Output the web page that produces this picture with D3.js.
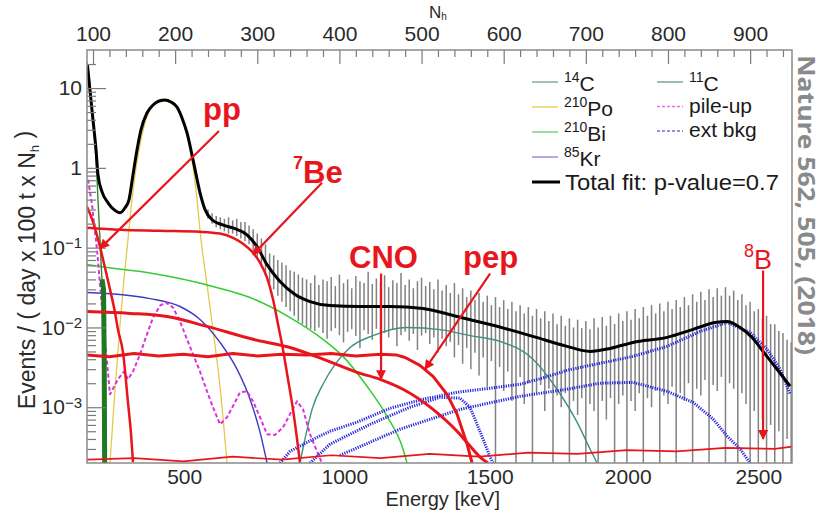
<!DOCTYPE html>
<html>
<head>
<meta charset="utf-8">
<script src="https://cdn.jsdelivr.net/npm/d3@7"></script>
<style>
    body { margin: 0; background: #fff; }
    svg text { font-family: "Liberation Sans", Arial, Helvetica, sans-serif; }
</style>
</head>
<body>
<div id="chart"></div>
<script>
    // axis ticks
    var nhTicks = [100, 200, 300, 400, 500, 600, 700, 800, 900];
    var energyTicks = [500, 1000, 1500, 2000, 2500];
    // N_h where each energy label sits (energy scale is not linear in N_h)
    var energyTickNh = [211, 406, 583, 751, 910];
    var decadeTicks = [1e-3, 1e-2, 1e-1, 1, 10];

    // curves: [N_h, events / (day x 100 t x N_h)]
    var totalFit = [[93.3,19.4],[96.3,9.44],[100,3.98],[103.7,1.68],[106.1,0.818],[111,0.50],[118.3,0.365],[125.6,0.30],
        [132.9,0.274],[139,0.316],[143.8,0.398],[148.7,0.818],[153.6,1.68],[158.4,2.99],[165.7,4.87],[173.1,6.13],
        [180.4,6.88],[187.7,7.08],[195,6.68],[202.3,5.79],[208.4,4.22],[214.5,2.74],[221.8,1.26],[230.3,0.487],
        [236.4,0.30],[244.9,0.224],[257.1,0.194],[272.9,0.173],[287.5,0.145],[299.7,0.103],[311.9,0.0613],
        [327.7,0.0376],[346,0.0259],[364.2,0.0211],[388.6,0.0188],[425.1,0.0183],[461.6,0.0183],[501.8,0.0173],
        [543.2,0.0137],[583.4,0.0109],[635.7,0.00772],[677.1,0.00579],[705.1,0.00501],[729.5,0.00546],
        [757.5,0.00649],[798.9,0.0075],[830.6,0.00944],[857.3,0.01155],[871.9,0.0119],[887.8,0.0100],
        [902.4,0.0075],[915.8,0.0050],[932.8,0.00299],[948.7,0.00183]];

    var ppNu = [[92.7,0.326],[100,0.211],[108.5,0.103],[114.6,0.056],[120.7,0.030],[126.8,0.0154],[130.4,0.0094],
        [136.5,0.0049],[142.6,0.00115],[146.3,0.00046],[148.7,0.000205]];
    var be7Nu = [[92.7,0.178],[132.9,0.168],[181.6,0.163],[230.3,0.158],[254.6,0.150],[270.5,0.133],[282.6,0.112],
        [293.6,0.089],[303.3,0.065],[311.9,0.042],[319.2,0.0224],[325.3,0.0109],[331.3,0.0053],[337.4,0.00224],
        [343.5,0.00094],[348.4,0.0004],[352,0.0002]];
    var cnoNu = [[92.7,0.0158],[145.1,0.0150],[190.1,0.0137],[238.8,0.0103],[294.8,0.0071],[339.9,0.0056],
        [380,0.0040],[421.4,0.00274],[449.4,0.00224],[477.4,0.00168],[514,0.00094],[543.2,0.0005],
        [559,0.000326],[571.2,0.000237],[580.9,0.0002]];
    var pepNu = [[92.7,0.0045],[120,0.0043],[150,0.0047],[180,0.0044],[210,0.0046],[240,0.0043],[270,0.0047],
        [300,0.0044],[330,0.0046],[360,0.0045],[390,0.0047],[420,0.0044],[450,0.0046],[470,0.0045],[480,0.0042],
        [498,0.00335],[514,0.00244],[531,0.00145],[543.2,0.00082],[555.4,0.000345],[561.5,0.0002]];
    var b8Nu = [[92.7,0.00022],[150,0.00023],[210,0.00021],[270,0.00024],[330,0.00022],[390,0.00025],[450,0.00023],
        [510,0.00026],[570,0.00024],[630,0.00027],[690,0.00026],[750,0.00029],[810,0.00028],[870,0.00031],
        [930,0.0003],[951,0.00032]];

    var c14 = [[92.7,21],[96.3,10.9],[100,4.2],[103.7,1.26],[106.1,0.40],[108.5,0.126],[111,0.040],
        [112.8,0.03],[113.6,0.005],[114.2,0.0002]];
    var po210 = [[120.7,0.0002],[126.8,0.00168],[132.9,0.0109],[137.7,0.040],[142.6,0.126],[147.5,0.40],
        [152.4,1.0],[158.4,2.24],[165.7,4.47],[173.1,5.96],[180.4,6.68],[187.7,6.88],[195,6.49],[202.3,5.46],
        [208.4,3.98],[214.5,2.51],[220.5,1.26],[225.4,0.53],[231.5,0.126],[238.8,0.0345],[246.1,0.0094],
        [254.6,0.00183],[263.2,0.0002]];
    var bi210 = [[92.7,0.0613],[108.5,0.0579],[165.7,0.0487],[246.1,0.0326],[291.2,0.0237],[339.9,0.0133],
        [380,0.0071],[404.4,0.00434],[433.6,0.00183],[458,0.00077],[477.4,0.0003],[482.3,0.0002]];
    var kr85 = [[92.7,0.0274],[132.9,0.0259],[169.4,0.023],[205.9,0.0183],[230.3,0.0126],[254.6,0.0065],
        [275.3,0.003],[291.2,0.00126],[303.3,0.00049],[311.9,0.0002]];
    var c11 = [[352,0.0002],[358.1,0.0004],[366.7,0.00094],[380,0.00194],[394.7,0.00345],[412.9,0.0056],
        [440.9,0.0079],[482.3,0.01],[522.5,0.0094],[559,0.0079],[595.6,0.00668],[635.7,0.004],[664.9,0.00168],
        [689.3,0.00065],[705.1,0.0003],[713.7,0.0002]];
    var pileUp = [[94,0.71],[98.8,0.345],[104.9,0.094],[112.2,0.0126],[120.7,0.00145],[130.4,0.00224],
        [137.7,0.0028],[142.6,0.00224],[148.7,0.0028],[157.2,0.0046],[165.7,0.0082],[173.1,0.0133],[181.6,0.0188],
        [188.9,0.0205],[197.4,0.0178],[205.9,0.0119],[214.5,0.0071],[221.8,0.0046],[230.3,0.0028],[238.8,0.00158],
        [246.1,0.001],[254.6,0.00061],[263.2,0.00075],[271.7,0.00109],[279,0.00154],[287.5,0.00158],
        [294.8,0.00119],[303.3,0.00075],[311.9,0.00046],[321.6,0.00045],[331.3,0.00056],[339.9,0.00082],
        [348.4,0.00119],[355.7,0.00094],[364.2,0.00046],[371.5,0.0003],[378.8,0.0002]];
    var extTl = [[327.7,0.0002],[339.9,0.00028],[364.2,0.00038],[388.6,0.0005],[421.4,0.00065],[461.6,0.00097],
        [501.8,0.00126],[543.2,0.00154],[583.4,0.00173],[620,0.00194],[650.4,0.00237],[677.1,0.0029],
        [717.3,0.00355],[757.5,0.00434],[798.9,0.00579],[839.1,0.0089],[871.9,0.01155],[900,0.00866],
        [920.7,0.0053],[936.5,0.003],[948.7,0.00145]];
    var extK = [[364.2,0.0002],[388.6,0.000345],[437.3,0.00061],[485.9,0.001],[522.5,0.00133],[546.9,0.0013],
        [559,0.001],[571,0.0005],[583.4,0.00024],[587,0.0002]];
    var extBi = [[400.7,0.00025],[473.8,0.00053],[546.9,0.00094],[620,0.00137],[677.1,0.00168],[717.3,0.002],
        [757.5,0.00205],[798.9,0.00158],[830.6,0.00115],[855,0.00071],[872,0.000434],[887.8,0.0003],[900,0.0002]];

    // data error bars, one per 5 N_h from 240 to 950 (top and bottom of each bar)
    var binStart = 240, binStep = 5;
    var dataHi = [
        0.30,0.27,0.25,0.24,0.23,0.24,0.22,0.23,0.21,0.21,
        0.19,0.17,0.15,0.13,0.11,0.085,0.08,0.07,0.065,0.06,
        0.052,0.05,0.046,0.042,0.040,0.036,0.045,0.034,0.040,0.038,
        0.043,0.033,0.046,0.036,0.040,0.031,0.044,0.038,0.036,0.050,
        0.035,0.041,0.037,0.045,0.032,0.039,0.036,0.048,0.034,0.040,
        0.031,0.038,0.042,0.033,0.037,0.030,0.040,0.029,0.034,0.027,
        0.036,0.026,0.031,0.024,0.029,0.022,0.027,0.021,0.025,0.019,
        0.024,0.018,0.022,0.017,0.021,0.016,0.019,0.015,0.018,0.014,
        0.017,0.013,0.016,0.012,0.015,0.011,0.014,0.0105,0.013,0.010,
        0.0125,0.0098,0.012,0.0095,0.013,0.010,0.0135,0.0105,0.014,0.011,
        0.015,0.012,0.016,0.0125,0.017,0.013,0.018,0.014,0.019,0.015,
        0.020,0.016,0.021,0.017,0.022,0.018,0.024,0.019,0.026,0.021,
        0.028,0.022,0.030,0.024,0.031,0.025,0.032,0.025,0.029,0.022,
        0.026,0.019,0.021,0.016,0.017,0.013,0.014,0.011,0.011,0.009,
        0.0085,0.007,0.0065];
    var dataLo = [
        0.23,0.20,0.18,0.17,0.16,0.15,0.15,0.14,0.13,0.12,
        0.11,0.09,0.075,0.058,0.045,0.036,0.03,0.025,0.021,0.018,
        0.016,0.014,0.012,0.011,0.010,0.0095,0.009,0.010,0.0085,0.0072,
        0.009,0.0098,0.008,0.0065,0.0088,0.0095,0.0078,0.0055,0.0092,0.0083,
        0.007,0.0096,0.0062,0.0085,0.0075,0.0093,0.0058,0.008,0.0088,0.0068,
        0.0083,0.0052,0.0079,0.0085,0.0062,0.0075,0.0048,0.0072,0.0058,0.0066,
        0.0042,0.006,0.0035,0.0055,0.003,0.0048,0.0025,0.0042,0.0018,0.0038,
        0.0001,0.0032,0.0016,0.0028,0.0012,0.0001,0.0024,0.0011,0.002,0.0001,
        0.0015,0.0019,0.0009,0.0017,0.0001,0.0014,0.001,0.0015,0.0001,0.0012,
        0.0008,0.0013,0.0001,0.0011,0.0009,0.0001,0.0012,0.0007,0.0013,0.0001,
        0.0011,0.0014,0.0001,0.0012,0.0009,0.0015,0.0001,0.0013,0.001,0.0016,
        0.0001,0.0014,0.0011,0.0018,0.0001,0.0015,0.0012,0.002,0.0001,0.0017,
        0.0014,0.0022,0.0001,0.0019,0.0016,0.0024,0.0001,0.002,0.0017,0.0001,
        0.0015,0.0011,0.0001,0.0009,0.0001,0.0007,0.0001,0.0006,0.0001,0.0005,
        0.0001,0.0004,0.0001];

    // legend entries
    var legendLeft = [
        {sup: "14", name: "C", color: "#7fa493"},
        {sup: "210", name: "Po", color: "#e9cf55"},
        {sup: "210", name: "Bi", color: "#6fd06f"},
        {sup: "85", name: "Kr", color: "#8c8cd6"}];
    var legendRight = [
        {sup: "11", name: "C", color: "#6f9f9c", dash: null},
        {sup: "", name: "pile-up", color: "#e070e0", dash: "3,2"},
        {sup: "", name: "ext bkg", color: "#7070d0", dash: "3,2"}];

    // red labels with arrows, in data coordinates
    var annotations = [
        {sup: "", text: "pp", at: [233.9, 3.98], anchor: "start", bold: true, from: [253.4, 2.90], to: [108.5, 0.0972]},
        {sup: "7", text: "Be", at: [343.5, 0.772], anchor: "start", bold: true, from: [378.8, 0.65], to: [294.8, 0.0818]},
        {sup: "", text: "CNO", at: [453.7, 0.0562], anchor: "middle", bold: true, from: [450.7, 0.0473], to: [450.7, 0.00225]},
        {sup: "", text: "pep", at: [584, 0.0562], anchor: "middle", bold: true, from: [583.4, 0.0473], to: [504.2, 0.00299]},
        {sup: "8", text: "B", at: [909.7, 0.0613], anchor: "middle", bold: false, from: [915.8, 0.0516], to: [915.8, 0.0004]}];

    var W = 824, H = 512;
    var margin = {top: 50, right: 32, bottom: 49, left: 87},
        width = W - margin.left - margin.right,
        height = H - margin.top - margin.bottom;
    var red = "#e8161c";

    var svg = d3.select("#chart").append("svg").attr("width", W).attr("height", H);
    var g = svg.append("g").attr("transform", "translate(" + margin.left + "," + margin.top + ")");

    var x = d3.scaleLinear().domain([92.7, 951]).range([0, width]);
    var y = d3.scaleLog().domain([2e-4, 30]).range([height, 0]);
    var energyX = d3.scaleLinear().domain(energyTicks).range(energyTickNh.map(function (n) { return x(n); }));

    var defs = svg.append("defs");
    defs.append("clipPath").attr("id", "clip")
        .append("rect").attr("width", width).attr("height", height);
    defs.append("marker").attr("id", "arrow").attr("viewBox", "0 0 10 10")
        .attr("refX", 9).attr("refY", 5).attr("markerWidth", 12).attr("markerHeight", 10)
        .attr("markerUnits", "userSpaceOnUse").attr("orient", "auto")
        .append("path").attr("d", "M0,0 L10,5 L0,10 z").attr("fill", red);

    var plot = g.append("g").attr("clip-path", "url(#clip)");

    // grey data bars
    plot.selectAll(".bar").data(dataHi).enter().append("line")
        .attr("class", "bar")
        .attr("x1", function (d, i) { return x(binStart + i * binStep); })
        .attr("x2", function (d, i) { return x(binStart + i * binStep); })
        .attr("y1", function (d) { return y(d); })
        .attr("y2", function (d, i) { return Math.min(y(dataLo[i]), height + 5); })
        .attr("stroke", "#636363").attr("stroke-width", 1.5).attr("opacity", 0.8);

    var line = d3.line().x(function (d) { return x(d[0]); }).y(function (d) { return y(d[1]); });

    function drawCurve(data, color, w, dash, curve) {
        plot.append("path").datum(data)
            .attr("fill", "none").attr("stroke", color).attr("stroke-width", w)
            .attr("stroke-dasharray", dash || null).attr("stroke-linejoin", "round")
            .attr("d", line.curve(curve || d3.curveMonotoneX));
    }

    // backgrounds
    drawCurve(po210, "#e6c84a", 1.3);
    drawCurve(bi210, "#33cc33", 1.5);
    drawCurve(kr85, "#3b3bc8", 1.4);
    drawCurve(c11, "#3f8f84", 1.4);
    drawCurve(pileUp, "#dd33dd", 2, "4,2.5", d3.curveLinear);
    drawCurve(extTl, "#2424e0", 3, "1.2,1.2", d3.curveLinear);
    drawCurve(extK, "#2424e0", 3, "1.2,1.2", d3.curveLinear);
    drawCurve(extBi, "#2424e0", 3, "1.2,1.2", d3.curveLinear);
    drawCurve(c14, "#2f8a2f", 1.4);
    drawCurve(c14.filter(function (d) { return d[1] < 0.05; }), "#1f7a1f", 5, null, d3.curveLinear);

    // neutrino components
    drawCurve(b8Nu, red, 1.7, null, d3.curveLinear);
    drawCurve(ppNu, red, 2.5);
    drawCurve(be7Nu, red, 2.5);
    drawCurve(cnoNu, red, 3);
    drawCurve(pepNu, red, 3, null, d3.curveLinear);

    // total fit
    drawCurve(totalFit, "#000", 3);

    // axes
    g.append("g").attr("class", "axis")
        .call(d3.axisTop(x).tickValues(nhTicks).tickSize(-14).tickPadding(9));
    g.append("g").attr("class", "axis")
        .call(d3.axisTop(x).tickValues(d3.range(100, 951, 20).filter(function (v) { return v % 100; }))
            .tickSize(-7).tickFormat(""));

    var minors = [];
    [-4, -3, -2, -1, 0, 1].forEach(function (e) {
        for (var m = 2; m < 10; m++) {
            var v = m * Math.pow(10, e);
            if (v > 2e-4 && v < 30) minors.push(v);
        }
    });
    var leftAxis = g.append("g").attr("class", "axis")
        .call(d3.axisLeft(y).tickValues(decadeTicks).tickSize(-19).tickPadding(5));
    g.append("g").attr("class", "axis")
        .call(d3.axisLeft(y).tickValues(minors).tickSize(-9).tickFormat(""));

    leftAxis.selectAll(".tick text").each(function (d) {
        var t = d3.select(this).text("");
        var e = Math.round(Math.log10(d));
        if (e === 0) t.text("1");
        else if (e === 1) t.text("10");
        else {
            t.append("tspan").text("10");
            t.append("tspan").attr("class", "sup").attr("dy", "-0.45em").text("\u2212" + (-e));
        }
    });

    g.append("g").attr("class", "axis")
        .attr("transform", "translate(0," + height + ")")
        .call(d3.axisBottom(energyX).tickValues(energyTicks).tickSize(0).tickPadding(6).tickFormat(d3.format("d")));

    g.selectAll(".axis .domain").remove();
    g.selectAll(".axis .tick line").attr("stroke", "#7a7a7a").attr("stroke-width", 1.2);
    g.selectAll(".axis .tick text").attr("fill", "#2a2a2a").style("font-size", "21px");
    leftAxis.selectAll(".tick text .sup").style("font-size", "15px");

    // frame
    g.append("rect").attr("width", width).attr("height", height)
        .attr("fill", "none").attr("stroke", "#8a8a8a").attr("stroke-width", 1.5);

    // axis titles
    svg.append("text").attr("x", 500).attr("y", 506).attr("text-anchor", "end")
        .attr("fill", "#2a2a2a").style("font-size", "20px").text("Energy [keV]");

    var yt = svg.append("text").attr("transform", "translate(35,270) rotate(-90)")
        .attr("text-anchor", "middle").attr("fill", "#2a2a2a").style("font-size", "23px");
    yt.append("tspan").text("Events / ( day x 100 t x N");
    yt.append("tspan").attr("dy", "0.3em").style("font-size", "13px").text("h");
    yt.append("tspan").attr("dy", "-0.3em").text(" )");

    var nt = svg.append("text").attr("x", 429).attr("y", 18).attr("fill", "#2a2a2a").style("font-size", "17px");
    nt.append("tspan").text("N");
    nt.append("tspan").attr("dy", "0.2em").style("font-size", "10px").text("h");

    // legend
    function legendText(sel, d) {
        if (d.sup) sel.append("tspan").attr("dy", "-0.42em").style("font-size", "14px").text(d.sup);
        sel.append("tspan").attr("dy", d.sup ? "0.42em" : null).text(d.name);
    }
    legendLeft.forEach(function (d, i) {
        var ly = 82 + i * 25;
        svg.append("line").attr("x1", 532).attr("x2", 558).attr("y1", ly).attr("y2", ly)
            .attr("stroke", d.color).attr("stroke-width", 1.4);
        var t = svg.append("text").attr("x", 564).attr("y", ly + 6).attr("fill", "#1a1a1a").style("font-size", "21px");
        legendText(t, d);
    });
    legendRight.forEach(function (d, i) {
        var ly = 82 + i * 24.5;
        svg.append("line").attr("x1", 657).attr("x2", 683).attr("y1", ly).attr("y2", ly)
            .attr("stroke", d.color).attr("stroke-width", 1.4).attr("stroke-dasharray", d.dash);
        var t = svg.append("text").attr("x", 689).attr("y", ly + 6).attr("fill", "#1a1a1a").style("font-size", "21px");
        legendText(t, d);
    });
    svg.append("line").attr("x1", 532).attr("x2", 560).attr("y1", 182).attr("y2", 182)
        .attr("stroke", "#000").attr("stroke-width", 3);
    svg.append("text").attr("x", 565).attr("y", 189.5).attr("fill", "#1a1a1a").style("font-size", "22px")
        .attr("textLength", 214).attr("lengthAdjust", "spacingAndGlyphs")
        .text("Total fit: p-value=0.7");

    // annotations
    annotations.forEach(function (a) {
        g.append("line")
            .attr("x1", x(a.from[0])).attr("y1", y(a.from[1]))
            .attr("x2", x(a.to[0])).attr("y2", y(a.to[1]))
            .attr("stroke", red).attr("stroke-width", 2.2).attr("marker-end", "url(#arrow)");
        var t = g.append("text").attr("x", x(a.at[0])).attr("y", y(a.at[1]))
            .attr("text-anchor", a.anchor).attr("fill", red)
            .style("font-size", a.bold ? "31px" : "27px").style("font-weight", a.bold ? "bold" : "normal");
        if (a.sup) t.append("tspan").attr("dy", "-0.45em").style("font-size", "18px").text(a.sup);
        t.append("tspan").attr("dy", a.sup ? "0.45em" : null).text(a.text);
    });

    // citation on the right
    svg.append("text").attr("transform", "translate(798,55) rotate(90)")
        .attr("fill", "#8a8a8a").style("font-family", "'Open Sans', sans-serif")
        .style("font-weight", "bold").style("font-size", "24px")
        .attr("textLength", 300).attr("lengthAdjust", "spacingAndGlyphs")
        .text("Nature 562, 505, (2018)");
</script>
</body>
</html>
